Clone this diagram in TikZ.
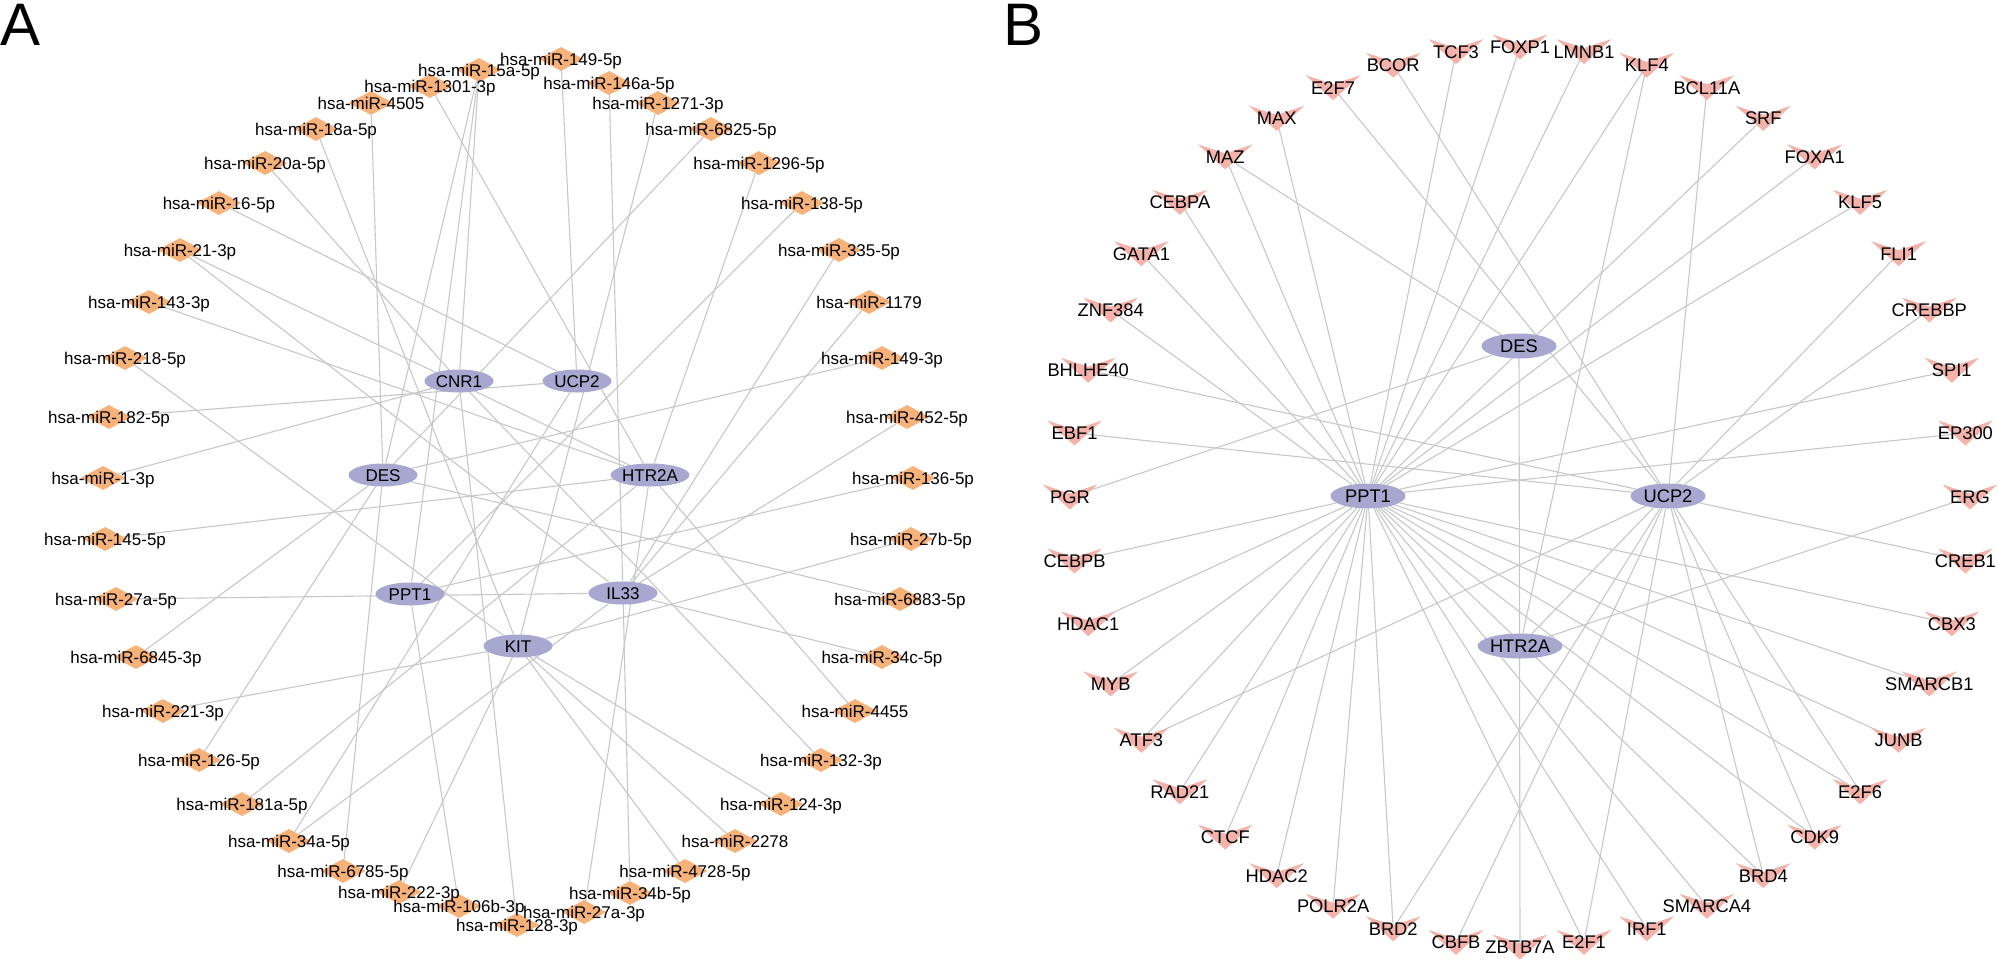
\documentclass[tikz,border=0pt]{standalone}
\usepackage{fontspec}
\setmainfont{Liberation Sans}
\usetikzlibrary{shapes.geometric}
\definecolor{edgec}{RGB}{200,200,200}
\definecolor{mirc}{RGB}{247,178,122}
\definecolor{genec}{RGB}{167,167,207}
\definecolor{tfc}{RGB}{243,178,170}
\pgfdeclarelayer{paper}
\pgfdeclarelayer{bg}
\pgfsetlayers{paper,bg,main}
\newcommand\tfshape[1]{\fill[tfc] (#1) ++(-27.5,-12.5) -- ++(27.5,9) -- ++(27.5,-9) -- ++(-27.5,25) -- cycle;}
\begin{document}
\begin{tikzpicture}[x=1pt,y=-1pt,
  edge/.style={draw=edgec, line width=1.1pt},
  mir/.style={shape=diamond, fill=mirc, minimum width=45pt, minimum height=24pt, inner sep=0pt},
  geneA/.style={shape=ellipse, fill=genec, minimum width=69pt, minimum height=23pt, inner sep=0pt, text height=12.2pt, text depth=0pt, font=\fontsize{17}{17}\selectfont},
  geneB/.style={shape=ellipse, fill=genec, minimum width=75pt, minimum height=25pt, inner sep=0pt, text height=13.1pt, text depth=0pt, font=\fontsize{18.3}{18.3}\selectfont},
  labA/.style={inner sep=0pt, text height=12.2pt, text depth=0pt, font=\fontsize{17}{17}\selectfont},
  labB/.style={inner sep=0pt, text height=13.1pt, text depth=0pt, font=\fontsize{18.3}{18.3}\selectfont},
  tfpt/.style={inner sep=0pt, minimum size=0pt},
  panel/.style={inner sep=0pt, anchor=north west, text height=43pt, text depth=0pt, font=\fontsize{60}{60}\selectfont}
]
\useasboundingbox (0,0) rectangle (1998,962);
\begin{pgfonlayer}{paper}
\fill[white] (0,0) rectangle (1998,962);
\end{pgfonlayer}

% ---------------- Panel A ----------------
\node[panel] (lblA) at (0,2) {A};
\node[geneA] (CNR1) at (459,381) {CNR1};
\node[geneA] (UCP2) at (577,381) {UCP2};
\node[geneA] (DES) at (383,475) {DES};
\node[geneA] (HTR2A) at (650,475) {HTR2A};
\node[geneA] (PPT1) at (410,594) {PPT1};
\node[geneA] (IL33) at (623,593) {IL33};
\node[geneA] (KIT) at (518,646) {KIT};

\def\mirlist{m15a5p/479/70/hsa-miR-15a-5p, m149x5p/561/59/hsa-miR-149-5p, m146ax5p/609/83/hsa-miR-146a-5p,
 m1271x3p/658/103/hsa-miR-1271-3p, m6825x5p/711/129/hsa-miR-6825-5p, m1296x5p/759/163/hsa-miR-1296-5p,
 m138x5p/802/203/hsa-miR-138-5p, m335x5p/839/250/hsa-miR-335-5p, m1179/869/302/hsa-miR-1179,
 m149x3p/882/358/hsa-miR-149-3p, m452x5p/907/417/hsa-miR-452-5p, m136x5p/913/478/hsa-miR-136-5p,
 m27bx5p/911/539/hsa-miR-27b-5p, m6883x5p/900/599/hsa-miR-6883-5p, m34cx5p/882/657/hsa-miR-34c-5p,
 m4455/855/711/hsa-miR-4455, m132x3p/821/760/hsa-miR-132-3p, m124x3p/781/804/hsa-miR-124-3p,
 m2278/735/841/hsa-miR-2278, m4728x5p/685/871/hsa-miR-4728-5p, m34bx5p/630/893/hsa-miR-34b-5p,
 m27ax3p/584/912/hsa-miR-27a-3p, m128x3p/517/925/hsa-miR-128-3p, m106bx3p/459/906/hsa-miR-106b-3p,
 m222x3p/399/892/hsa-miR-222-3p, m6785x5p/343/871/hsa-miR-6785-5p, m34ax5p/289/841/hsa-miR-34a-5p,
 m181ax5p/242/804/hsa-miR-181a-5p, m126x5p/199/760/hsa-miR-126-5p, m221x3p/163/711/hsa-miR-221-3p,
 m6845x3p/136/657/hsa-miR-6845-3p, m27ax5p/116/599/hsa-miR-27a-5p, m145x5p/105/539/hsa-miR-145-5p,
 m1x3p/103/478/hsa-miR-1-3p, m182x5p/109/417/hsa-miR-182-5p, m218x5p/125/358/hsa-miR-218-5p,
 m143x3p/149/302/hsa-miR-143-3p, m21x3p/180/250/hsa-miR-21-3p, m16x5p/219/203/hsa-miR-16-5p,
 m20ax5p/265/163/hsa-miR-20a-5p, m18ax5p/316/129/hsa-miR-18a-5p, m4505/371/103/hsa-miR-4505,
 m1301x3p/430/86/hsa-miR-1301-3p}

\foreach \n/\x/\y/\t in \mirlist { \node[mir] (\n) at (\x,\y) {}; }
\foreach \n/\x/\y/\t in \mirlist { \node[labA] at (\n) {\t}; }

\begin{pgfonlayer}{bg}
\foreach \a/\b in {
 m4505/DES, m15a5p/DES, m6845x3p/DES, m126x5p/DES, m6785x5p/DES, m6883x5p/DES, m149x3p/DES, m6825x5p/DES,
 m15a5p/PPT1, m106bx3p/PPT1, m136x5p/PPT1, m138x5p/PPT1,
 m15a5p/CNR1, m20ax5p/CNR1, m1x3p/CNR1, m128x3p/CNR1, m132x3p/CNR1,
 m16x5p/UCP2, m182x5p/UCP2, m34ax5p/UCP2, m149x5p/UCP2,
 m1301x3p/HTR2A, m21x3p/HTR2A, m143x3p/HTR2A, m145x5p/HTR2A, m181ax5p/HTR2A, m27ax3p/HTR2A, m4455/HTR2A, m1296x5p/HTR2A,
 m21x3p/IL33, m27ax5p/IL33, m34ax5p/IL33, m34bx5p/IL33, m34cx5p/IL33, m452x5p/IL33, m1179/IL33, m335x5p/IL33, m146ax5p/IL33,
 m18ax5p/KIT, m218x5p/KIT, m221x3p/KIT, m222x3p/KIT, m4728x5p/KIT, m2278/KIT, m124x3p/KIT, m27bx5p/KIT, m1271x3p/KIT}
 { \draw[edge] (\a) -- (\b); }
\end{pgfonlayer}

% ---------------- Panel B ----------------
\node[panel] (lblB) at (1003,2) {B};
\node[geneB] (bDES) at (1519,346) {DES};
\node[geneB] (bPPT1) at (1368,496) {PPT1};
\node[geneB] (bUCP2) at (1668,496) {UCP2};
\node[geneB] (bHTR2A) at (1520,646) {HTR2A};

\def\tflist{FOXP1/1520/47, LMNB1/1584.0/51.6, KLF4/1646.8/65.2, BCL11A/1706.9/87.7, SRF/1763.3/118.4,
 FOXA1/1814.7/156.9, KLF5/1860.1/202.3, FLI1/1898.6/253.7, CREBBP/1929.3/310.1, SPI1/1951.8/370.2,
 EP300/1965.4/433.0, ERG/1970/497, CREB1/1965.4/561.0, CBX3/1951.8/623.8, SMARCB1/1929.3/683.9,
 JUNB/1898.6/740.3, E2F6/1860.1/791.7, CDK9/1814.7/837.1, BRD4/1763.3/875.6, SMARCA4/1706.9/906.3,
 IRF1/1646.8/928.8, E2F1/1584.0/942.4, ZBTB7A/1520/947, CBFB/1456.0/942.4, BRD2/1393.2/928.8,
 POLR2A/1333.1/906.3, HDAC2/1276.7/875.6, CTCF/1225.3/837.1, RAD21/1179.9/791.7, ATF3/1141.4/740.3,
 MYB/1110.7/683.9, HDAC1/1088.2/623.8, CEBPB/1074.6/561.0, PGR/1070/497, EBF1/1074.6/433.0,
 BHLHE40/1088.2/370.2, ZNF384/1110.7/310.1, GATA1/1141.4/253.7, CEBPA/1179.9/202.3, MAZ/1225.3/156.9,
 MAX/1276.7/118.4, E2F7/1333.1/87.7, BCOR/1393.2/65.2, TCF3/1456.0/51.6}

\foreach \n/\x/\y in \tflist { \node[tfpt] (\n) at (\x,\y) {}; \tfshape{\n} }
\foreach \n/\x/\y in \tflist { \node[labB] at (\n) {\n}; }

\begin{pgfonlayer}{bg}
\foreach \a in {FOXP1, LMNB1, KLF4, SRF, FOXA1, KLF5, SPI1, EP300, CBX3, SMARCB1, JUNB, E2F6, CDK9, BRD4,
 SMARCA4, IRF1, E2F1, BRD2, POLR2A, HDAC2, CTCF, RAD21, ATF3, MYB, HDAC1, CEBPB, ZNF384, GATA1, CEBPA, MAZ, MAX, TCF3}
 { \draw[edge] (\a) -- (bPPT1); }
\foreach \a in {E2F7, BCOR, BCL11A, CREBBP, CREB1, E2F6, CDK9, BRD4, E2F1, BRD2, CBFB, ATF3, BHLHE40, EBF1}
 { \draw[edge] (\a) -- (bUCP2); }
\foreach \a in {MAZ, PGR, ZBTB7A}
 { \draw[edge] (\a) -- (bDES); }
\foreach \a in {KLF4, ERG, FLI1}
 { \draw[edge] (\a) -- (bHTR2A); }
\end{pgfonlayer}
\end{tikzpicture}
\end{document}
